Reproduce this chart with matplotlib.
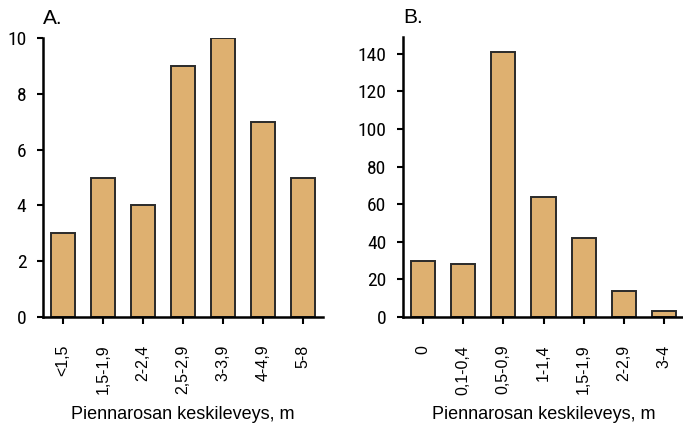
import matplotlib
matplotlib.use("Agg")
import matplotlib.pyplot as plt

# Data
cats_a = ["<1,5", "1,5-1,9", "2-2,4", "2,5-2,9", "3-3,9", "4-4,9", "5-8"]
vals_a = [3, 5, 4, 9, 10, 7, 5]
cats_b = ["0", "0,1-0,4", "0,5-0,9", "1-1,4", "1,5-1,9", "2-2,9", "3-4"]
vals_b = [30, 28, 141, 64, 42, 14, 3]
xlabel = "Piennarosan keskileveys, m"

bar_color = "#DEB070"
edge_color = "#2a2a2a"

narrow = ["Roboto Condensed", "PT Sans Narrow", "DejaVu Sans"]
sans = ["Liberation Sans", "Arimo", "DejaVu Sans"]

fig = plt.figure(figsize=(6.83, 4.23), dpi=100)
W, H = 683, 423


def make_axes(left, right, top, bottom=317):
    return fig.add_axes([left / W, 1 - bottom / H, (right - left) / W, (bottom - top) / H])


def draw(ax, cats, vals, ymax, yticks, title):
    x = list(range(len(cats)))
    ax.bar(x, vals, width=0.6, color=bar_color, edgecolor=edge_color, linewidth=1.4, zorder=2)
    ax.set_xlim(-0.5, 6.5)
    ax.set_ylim(0, ymax)
    ax.set_yticks(yticks)
    ax.set_xticks(x)
    ax.set_xticklabels(cats, rotation=90, fontfamily=sans, fontsize=11.5)
    for lbl in ax.get_xticklabels():
        lbl.set_va("top")
        lbl.set_ha("center")
    for lbl in ax.get_yticklabels():
        lbl.set_fontfamily(narrow)
        lbl.set_fontsize(14)
    for s in ("top", "right"):
        ax.spines[s].set_visible(False)
    for s in ("left", "bottom"):
        ax.spines[s].set_linewidth(1.8)
        ax.spines[s].set_color("black")
    ax.tick_params(axis="y", direction="out", length=4, width=1.5, pad=8)
    ax.tick_params(axis="x", direction="out", length=5, width=1.5, pad=15)
    ax.set_xlabel(xlabel, fontfamily=sans, fontsize=13, labelpad=8)
    ax.text(0.0, 1.035, title, transform=ax.transAxes, fontfamily=sans, fontsize=15,
            ha="left", va="bottom")


ax_a = make_axes(43, 323, 38)
draw(ax_a, cats_a, vals_a, 10, [0, 2, 4, 6, 8, 10], "A.")

ax_b = make_axes(403, 684, 37)
draw(ax_b, cats_b, vals_b, 149, [0, 20, 40, 60, 80, 100, 120, 140], "B.")

fig.savefig("out.png", dpi=100)
